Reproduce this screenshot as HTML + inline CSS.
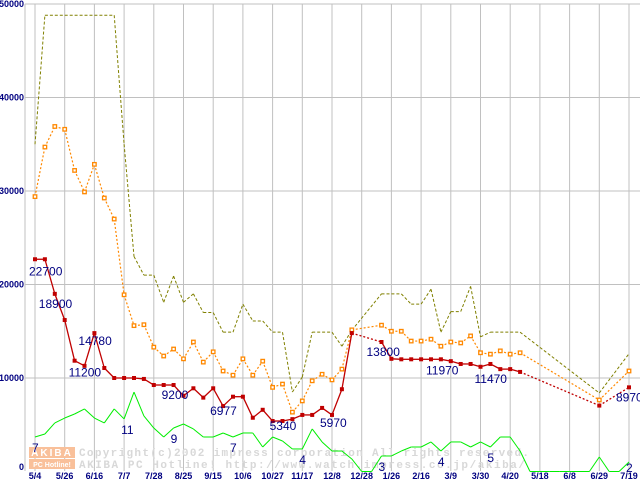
<!DOCTYPE html>
<html><head><meta charset="utf-8"><style>
html,body{margin:0;padding:0;background:#fff;}
svg{display:block;font-family:"Liberation Sans",sans-serif;}
</style></head><body>
<svg id="chart" width="640" height="480" viewBox="0 0 640 480" xmlns="http://www.w3.org/2000/svg">
<g id="grid"></g>
<g id="watermark">
  <rect x="29" y="447" width="46" height="11" fill="#f9c09a"/>
  <rect x="29" y="459" width="46" height="10" fill="#f9c09a"/>
  <text x="52" y="456" font-size="10" font-weight="bold" fill="#fff" text-anchor="middle" letter-spacing="2">AKIBA</text>
  <text x="52" y="467" font-size="7" font-weight="bold" fill="#fff" text-anchor="middle">PC Hotline!</text>
  <text x="79" y="456" font-size="11" font-weight="bold" fill="#d8d8d8" font-family="Liberation Mono, monospace" textLength="450">Copyright(c)2002 impress corporation All rights reserved.</text>
  <text x="79" y="468" font-size="11" font-weight="bold" fill="#d8d8d8" font-family="Liberation Mono, monospace" textLength="446">AKIBA PC Hotline!  http://www.watch.impress.co.jp/akiba/</text>
</g>
<g id="series"></g>
<g id="labels"></g>
</svg>
<script>
const xLabels = ["5/4","5/26","6/16","7/7","7/28","8/25","9/15","10/6","10/27","11/17","12/8","12/28","1/26","2/16","3/9","3/30","4/20","5/18","6/8","6/29","7/19"];
const yTicks = [0,10000,20000,30000,40000,50000];
const N = null;
const redVals = [22700,22700,19000,16200,11850,11300,14800,11070,10000,10000,10000,9900,9250,9250,9250,8100,8900,7900,8900,7000,8000,8000,5750,6600,5400,5400,5600,6050,6050,6800,6050,8800,14800,N,N,13850,12050,12000,12000,12000,12000,12000,11800,11500,11500,11200,11500,10950,10950,10650,N,N,N,N,N,N,N,7050,N,N,9000];
const orangeVals = [29400,34700,36900,36600,32200,29900,32850,29250,27000,18900,15600,15700,13300,12350,13100,12050,13850,11700,12800,10750,10300,12050,10300,11800,9000,9350,6350,7550,9700,10400,9800,10950,15150,N,N,15650,15000,15000,13950,13950,14150,13400,13850,13750,14500,12700,12550,12900,12550,12700,N,N,N,N,N,N,N,7650,N,N,10750];
const oliveVals = [35000,48800,48800,48800,48800,48800,48800,48800,48800,35000,23000,21000,21000,18100,20900,18100,19000,17000,17000,14900,14900,17900,16100,16100,14900,14900,8500,10100,14900,14900,14900,13400,15100,N,N,19000,19000,19000,17900,17900,19500,14900,17100,17100,19800,14400,14900,14900,14900,14900,N,N,N,N,N,N,N,8400,N,N,12600];
const greenVals = [3690,4010,5190,5720,6150,6690,5720,5190,6690,5620,8500,5940,4650,3690,4650,5080,4550,3690,3690,4120,3690,4120,4120,2620,3690,3260,2410,2410,4550,3160,2190,2190,1340,0,0,1660,1660,2190,2620,2620,3160,2190,3160,3160,2620,3160,2620,3690,3690,2190,0,0,0,0,0,0,0,1550,0,0,1020];
const annoText = ["22700","18900","14780","11200","9200","6977","5340","5970","13800","11970","11470","8970"];
const annoIdx = [0,2,6,4,14,19,24,30,35,40,45,60];
const countText = ["7","11","9","7","4","3","4","5","2"];
const countIdx = [0,9,14,20,27,35,41,46,60];
// label offsets (pixels, styling only)
const annoDx = [-6,-16,-16,-6,-12,-13,-3,-12,-15,-5,-6,-13];
const annoDy = [16,14,12,16,14,9,9,12,14,15,16,14];

const svgNS="http://www.w3.org/2000/svg";
const X = i => 35 + i*9.9;
const Y = v => 471.5 - v*93.5/10000;
function mk(tag, attrs, parent){const e=document.createElementNS(svgNS,tag);for(const k in attrs)e.setAttribute(k,attrs[k]);parent.appendChild(e);return e;}
const grid=document.getElementById('grid'), series=document.getElementById('series'), labels=document.getElementById('labels');

mk('line',{x1:25,y1:4,x2:25,y2:471,stroke:'#c0c0c0'},grid);
yTicks.forEach(t=>{
  const y=Y(t);
  if(t>0){const l=mk('line',{x1:25,y1:y,x2:640,y2:y,stroke:'#c0c0c0'},grid);
  
  }
  const tx=mk('text',{x:24,y:t===0?470:y+3,'font-size':9,'font-weight':'bold',fill:'#000080','text-anchor':'end'},labels);
  tx.textContent=String(t);
  
  
});
xLabels.forEach((s,k)=>{
  const x=X(k*3);
  const l=mk('line',{x1:x,y1:4,x2:x,y2:471,stroke:'#c0c0c0'},grid);
  
  
  const tx=mk('text',{x:x,y:479,'font-size':9,'font-weight':'bold',fill:'#000080','text-anchor':'middle'},labels);
  tx.textContent=s;
  
  
});

function drawSeries(vals,color,name,opts){
  let prev=-1;
  for(let i=0;i<vals.length;i++){
    if(vals[i]===null)continue;
    if(prev>=0){
      const gap=i-prev>1;
      const dash=opts.dash||(gap?'2,2':null);
      const a={x1:X(prev),y1:Y(vals[prev]),x2:X(i),y2:Y(vals[i]),stroke:color,'stroke-width':opts.w||1};
      if(dash)a['stroke-dasharray']=dash;
      const l=mk('line',a,series);
      
      
    }
    prev=i;
  }
  if(opts.marker){
    vals.forEach((v,i)=>{
      if(v===null)return;
      const hollow=opts.marker==='hollow';
      const r=mk('rect',{x:X(i)-(hollow?1.75:2),y:Y(v)-(hollow?1.75:2),width:hollow?3.5:4,height:hollow?3.5:4,fill:hollow?'#fff':color,stroke:color,'stroke-width':hollow?1.3:0},series);
      
      
    });
  }
}
drawSeries(greenVals,'#00ee00','count-line',{w:1});
drawSeries(oliveVals,'#808000','max-price-line',{dash:'3,2',w:1});
drawSeries(orangeVals,'#ff8800','avg-price-line',{dash:'2,2',w:1.2,marker:'hollow'});
drawSeries(redVals,'#c00000','min-price-line',{w:1.3,marker:'fill'});

annoText.forEach((s,k)=>{
  const i=annoIdx[k];
  const v=redVals[i];
  const tx=mk('text',{x:X(i)+annoDx[k],y:Y(v)+annoDy[k],'font-size':12,fill:'#000080'},labels);
  tx.textContent=s;
  
  
});
countText.forEach((s,k)=>{
  const i=countIdx[k];
  const tx=mk('text',{x:X(i)-3,y:Y(greenVals[i])+15,'font-size':12,fill:'#000080'},labels);
  if(i===60)tx.setAttribute('y',472);
  tx.textContent=s;
  
  
});
</script>
</body></html>
